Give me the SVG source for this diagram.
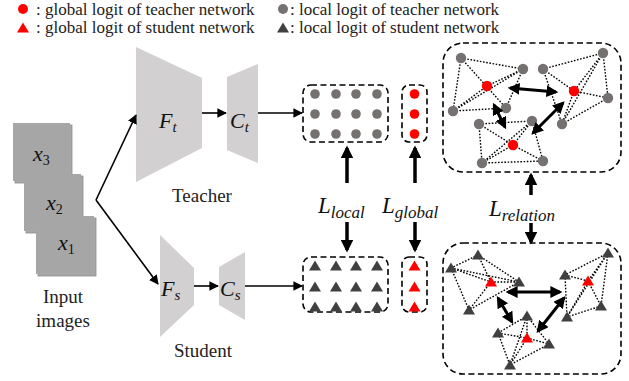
<svg xmlns="http://www.w3.org/2000/svg" width="629" height="381" viewBox="0 0 629 381">
<defs>
<style>
.t{font-family:"Liberation Serif","Times New Roman",serif;fill:#222}
.m{font-family:"Liberation Serif","DejaVu Serif",serif;font-style:italic;fill:#111}
.trap{fill:#d2d0d0}
.dash{fill:none;stroke:#000;stroke-width:1.6;stroke-dasharray:6 3.5}
.ln{stroke:#000;stroke-width:1.6;fill:none}
.thick{stroke:#000;stroke-width:3.5;fill:none}
.dbl{stroke:#000;stroke-width:3;fill:none}
.dot{stroke:#000;stroke-width:1.4;stroke-dasharray:1.6 1.6;fill:none}
.gc{fill:#767171}
.rc{fill:#ff0000}
.gt{fill:#404040}
.img{fill:#a8a8a8;stroke:#8c8c8c;stroke-width:0.8}
</style>
<marker id="ah" viewBox="0 0 10 10" refX="9" refY="5" markerWidth="6" markerHeight="6" orient="auto"><path d="M0,0 L10,5 L0,10 z" fill="#000"/></marker>
<marker id="ahb" viewBox="0 0 10 10" refX="8" refY="5" markerWidth="3.6" markerHeight="3.6" orient="auto"><path d="M0,0 L10,5 L0,10 z" fill="#000"/></marker>
<marker id="ahd" viewBox="0 0 10 10" refX="8" refY="5" markerWidth="4" markerHeight="4" orient="auto-start-reverse"><path d="M0,0 L10,5 L0,10 z" fill="#000"/></marker>
<path id="tri" d="M0,-5.5 L6,4.5 L-6,4.5 z"/>
</defs>

<g id="legend">
<circle cx="23" cy="9" r="5" class="rc"/>
<text class="t" x="36" y="15" font-size="17">: global logit of teacher network</text>
<use href="#tri" x="23" y="28" class="rc"/>
<text class="t" x="36" y="33" font-size="17">: global logit of student network</text>
<circle cx="283" cy="9" r="5" class="gc"/>
<text class="t" x="290" y="15" font-size="17">: local logit of teacher network</text>
<use href="#tri" x="283" y="28" class="gt"/>
<text class="t" x="290" y="33" font-size="17">: local logit of student network</text>
</g>

<g id="input-images">
<rect x="15" y="125" width="57" height="58" class="img"/>
<rect x="13" y="123" width="57" height="58" fill="#a6a6a6"/>
<text class="m" x="33" y="161" font-size="22">x<tspan font-size="14" dy="4" font-style="normal">3</tspan></text>
<rect x="26" y="176" width="57" height="57" class="img"/>
<rect x="24" y="174" width="57" height="57" fill="#a6a6a6"/>
<text class="m" x="46" y="210" font-size="22">x<tspan font-size="14" dy="4" font-style="normal">2</tspan></text>
<rect x="38" y="218" width="58" height="58" class="img"/>
<rect x="36" y="216" width="58" height="58" fill="#a6a6a6"/>
<text class="m" x="58" y="250" font-size="22">x<tspan font-size="14" dy="4" font-style="normal">1</tspan></text>
<text class="t" x="63" y="303" font-size="19" text-anchor="middle">Input</text>
<text class="t" x="63" y="327" font-size="19" text-anchor="middle">images</text>
</g>

<g id="teacher">
<polygon class="trap" points="136,47 202,78 202,148 136,182"/>
<text class="m" x="159" y="128" font-size="22">F<tspan font-size="15" dy="4">t</tspan></text>
<polygon class="trap" points="227,77 258,64 258,163 227,150"/>
<text class="m" x="230" y="128" font-size="22">C<tspan font-size="15" dy="4">t</tspan></text>
<text class="t" x="202" y="202" font-size="19" text-anchor="middle">Teacher</text>
</g>

<g id="student">
<polygon class="trap" points="160,235 194,268 194,305 160,337"/>
<text class="m" x="161" y="296" font-size="22">F<tspan font-size="15" dy="4">s</tspan></text>
<polygon class="trap" points="219,267 245,252 245,320 219,305"/>
<text class="m" x="220" y="296" font-size="22">C<tspan font-size="15" dy="4">s</tspan></text>
<text class="t" x="203" y="357" font-size="19" text-anchor="middle">Student</text>
</g>

<g id="teacher-local">
<rect x="303" y="85" width="85" height="57" rx="8" class="dash"/>
<g class="gc">
<circle cx="315" cy="94" r="4.8"/><circle cx="336" cy="94" r="4.8"/><circle cx="356" cy="94" r="4.8"/><circle cx="377" cy="94" r="4.8"/>
<circle cx="315" cy="114" r="4.8"/><circle cx="336" cy="114" r="4.8"/><circle cx="356" cy="114" r="4.8"/><circle cx="377" cy="114" r="4.8"/>
<circle cx="315" cy="134" r="4.8"/><circle cx="336" cy="134" r="4.8"/><circle cx="356" cy="134" r="4.8"/><circle cx="377" cy="134" r="4.8"/>
</g>
</g>
<g id="teacher-global">
<rect x="402" y="85" width="25" height="57" rx="7" class="dash"/>
<g class="rc"><circle cx="414.5" cy="94" r="4.8"/><circle cx="414.5" cy="114" r="4.8"/><circle cx="414.5" cy="134" r="4.8"/></g>
</g>
<g id="student-local">
<rect x="303" y="257" width="85" height="55" rx="8" class="dash"/>
<g class="gt">
<use href="#tri" x="315" y="266"/><use href="#tri" x="336" y="266"/><use href="#tri" x="356" y="266"/><use href="#tri" x="377" y="266"/>
<use href="#tri" x="315" y="287"/><use href="#tri" x="336" y="287"/><use href="#tri" x="356" y="287"/><use href="#tri" x="377" y="287"/>
<use href="#tri" x="315" y="307"/><use href="#tri" x="336" y="307"/><use href="#tri" x="356" y="307"/><use href="#tri" x="377" y="307"/>
</g>
</g>
<g id="student-global">
<rect x="402" y="257" width="25" height="55" rx="7" class="dash"/>
<g class="rc"><use href="#tri" x="414.5" y="266"/><use href="#tri" x="414.5" y="287"/><use href="#tri" x="414.5" y="307"/></g>
</g>

<g id="teacher-relation">
<rect x="443" y="43" width="178" height="129" rx="20" class="dash"/>
<g class="dot">
<path d="M461,58 L523,69 M461,58 L453,111 M461,58 L506,108 M523,69 L487,86 M453,111 L523,69 M453,111 L487,86 M453,111 L506,108 M523,69 L506,108"/>
<path d="M543,69 L603,53 M543,69 L574,91 M543,69 L562,124 M603,53 L574,91 M603,53 L608,98 M603,53 L562,124 M574,91 L608,98 M574,91 L562,124 M562,124 L608,98"/>
<path d="M479,124 L532,121 M479,124 L482,163 M479,124 L513,145 M532,121 L513,145 M532,121 L543,161 M532,121 L482,163 M513,145 L482,163 M513,145 L543,161 M482,163 L543,161"/>
</g>
<g class="gc">
<circle cx="461" cy="58" r="5.2"/><circle cx="523" cy="69" r="5.2"/><circle cx="453" cy="111" r="5.2"/><circle cx="506" cy="108" r="5.2"/>
<circle cx="543" cy="69" r="5.2"/><circle cx="603" cy="53" r="5.2"/><circle cx="608" cy="98" r="5.2"/><circle cx="562" cy="124" r="5.2"/>
<circle cx="479" cy="124" r="5.2"/><circle cx="532" cy="121" r="5.2"/><circle cx="482" cy="163" r="5.2"/><circle cx="543" cy="161" r="5.2"/>
</g>
<g class="rc"><circle cx="487" cy="86" r="5.2"/><circle cx="574" cy="91" r="5.2"/><circle cx="513" cy="145" r="5.2"/></g>
<g class="dbl">
<line x1="510" y1="88" x2="556" y2="92" marker-start="url(#ahd)" marker-end="url(#ahd)"/>
<line x1="494" y1="105" x2="505" y2="127" marker-start="url(#ahd)" marker-end="url(#ahd)"/>
<line x1="563" y1="103" x2="533" y2="133" marker-start="url(#ahd)" marker-end="url(#ahd)"/>
</g>
</g>

<g id="student-relation">
<rect x="443" y="243" width="178" height="131" rx="20" class="dash"/>
<g class="dot">
<path d="M478,255 L451,268 M478,255 L491,282 M478,255 L519,282 M451,268 L491,282 M451,268 L469,310 M491,282 L519,282 M491,282 L469,310 M519,282 L469,310 M451,268 L519,282"/>
<path d="M608,253 L565,275 M608,253 L588,281 M608,253 L601,306 M608,253 L567,317 M565,275 L588,281 M565,275 L567,317 M588,281 L567,317 M601,306 L567,317 M588,281 L601,306"/>
<path d="M527,316 L498,333 M527,316 L527,338 M527,316 L510,365 M527,316 L549,344 M498,333 L527,338 M498,333 L510,365 M527,338 L549,344 M549,344 L510,365 M527,338 L510,365"/>
</g>
<g class="gt">
<use href="#tri" x="478" y="255"/><use href="#tri" x="451" y="268"/><use href="#tri" x="519" y="282"/><use href="#tri" x="469" y="310"/>
<use href="#tri" x="608" y="253"/><use href="#tri" x="565" y="275"/><use href="#tri" x="601" y="306"/><use href="#tri" x="567" y="317"/>
<use href="#tri" x="527" y="316"/><use href="#tri" x="498" y="333"/><use href="#tri" x="549" y="344"/><use href="#tri" x="510" y="365"/>
</g>
<g class="rc"><use href="#tri" x="491" y="282"/><use href="#tri" x="588" y="281"/><use href="#tri" x="527" y="338"/></g>
<g class="dbl">
<line x1="508" y1="292" x2="560" y2="292" marker-start="url(#ahd)" marker-end="url(#ahd)"/>
<line x1="498" y1="298" x2="512" y2="322" marker-start="url(#ahd)" marker-end="url(#ahd)"/>
<line x1="564" y1="298" x2="538" y2="331" marker-start="url(#ahd)" marker-end="url(#ahd)"/>
</g>
</g>

<g id="loss-labels">
<text class="m" x="318" y="213" font-size="23">L<tspan font-size="17" dy="5">local</tspan></text>
<text class="m" x="382" y="213" font-size="23">L<tspan font-size="17" dy="5">global</tspan></text>
<text class="m" x="489" y="216" font-size="23">L<tspan font-size="17" dy="5">relation</tspan></text>
</g>

<g id="connectors">
<line x1="96" y1="200" x2="136" y2="115" class="ln" marker-end="url(#ah)"/>
<line x1="96" y1="200" x2="158" y2="284" class="ln" marker-end="url(#ah)"/>
<line x1="202" y1="113" x2="226" y2="113" class="ln" marker-end="url(#ah)"/>
<line x1="258" y1="113" x2="302" y2="113" class="ln" marker-end="url(#ah)"/>
<line x1="194" y1="286" x2="218" y2="286" class="ln" marker-end="url(#ah)"/>
<line x1="245" y1="286" x2="302" y2="286" class="ln" marker-end="url(#ah)"/>
<line x1="347" y1="183" x2="347" y2="148" class="thick" marker-end="url(#ahb)"/>
<line x1="415" y1="183" x2="415" y2="148" class="thick" marker-end="url(#ahb)"/>
<line x1="347" y1="222" x2="347" y2="250" class="thick" marker-end="url(#ahb)"/>
<line x1="415" y1="222" x2="415" y2="250" class="thick" marker-end="url(#ahb)"/>
<line x1="531" y1="195" x2="531" y2="175" class="thick" stroke-width="3" marker-end="url(#ahb)"/>
<line x1="531" y1="223" x2="531" y2="242" class="thick" stroke-width="3" marker-end="url(#ahb)"/>
</g>
</svg>
